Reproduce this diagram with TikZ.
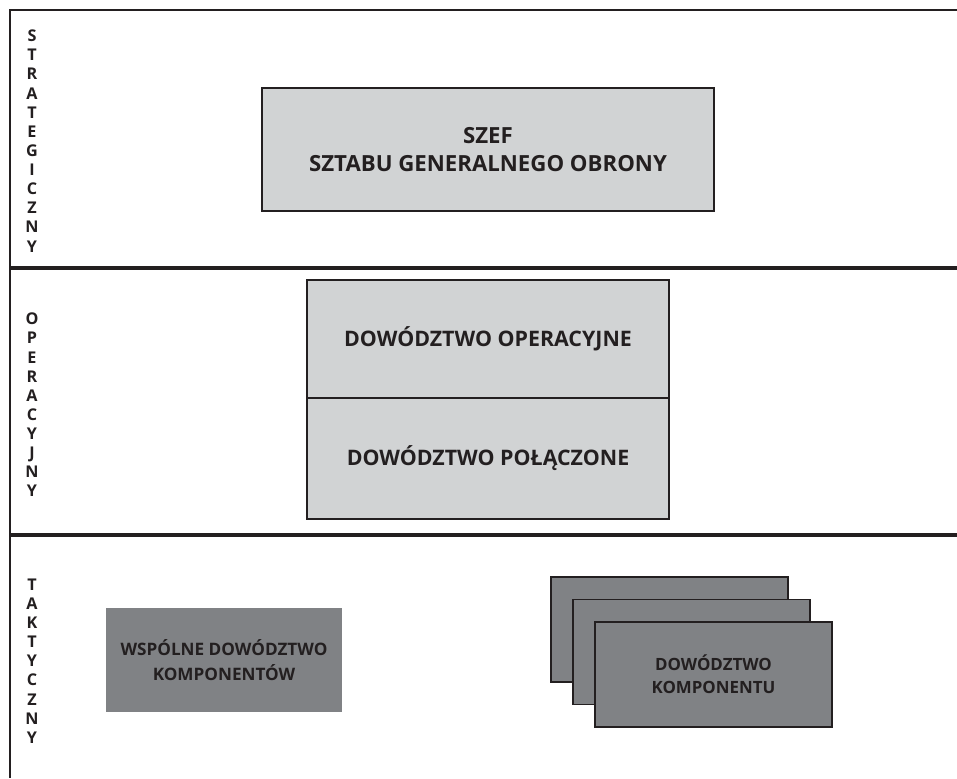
\documentclass[tikz,border=0pt]{standalone}
\usepackage{fontspec}
\setmainfont{Open Sans}
\usepackage{tikz}
\usetikzlibrary{positioning,calc}

\definecolor{jasny}{HTML}{D1D3D4}
\definecolor{ciemny}{HTML}{808285}
\definecolor{tekst}{HTML}{231F20}

\begin{document}
\begin{tikzpicture}[x=0.025cm, y=-0.025cm]
		\tikzset{poziom/.style={align=center,text=tekst,font=\bfseries\fontsize{11.5}{13.6}\selectfont}}
		\tikzset{komp/.style={rectangle,draw=tekst,line width=1.2pt,fill=ciemny,outer sep=0pt,minimum width=5.925cm,minimum height=2.625cm,align=center,text=tekst,font=\bfseries\fontsize{12}{16.3}\selectfont}}

		\useasboundingbox (0,0) rectangle (957,778);

		% Frame
		\draw[tekst, line width=1.3pt] (957,10) -| (10,778);
		\draw[tekst, line width=2.8pt] (10,268) -- (957,268);
		\draw[tekst, line width=2.8pt] (10,535) -- (957,535);

		% Levels
		\node[poziom] (strat) at (32,141) {S\\T\\R\\A\\T\\E\\G\\I\\C\\Z\\N\\Y};
		\node[poziom] (oper) at (32,405) {O\\P\\E\\R\\A\\C\\Y\\J\\N\\Y};
		\node[poziom] (takt) at (32,661) {T\\A\\K\\T\\Y\\C\\Z\\N\\Y};

		% Strategic
		\node[rectangle, draw=tekst, line width=1.2pt, fill=jasny, minimum width=11.3cm, minimum height=3.075cm, align=center, text=tekst, font=\bfseries\fontsize{15.8}{20.5}\selectfont] (szef) at (488,149.5) {SZEF\\SZTABU GENERALNEGO OBRONY};

		% Operational
		\node[rectangle, draw=tekst, line width=1.2pt, fill=jasny, outer sep=0pt, minimum width=9.05cm, minimum height=2.95cm, text=tekst, font=\bfseries\fontsize{15.2}{20}\selectfont] (dowop) at (488,339) {DOWÓDZTWO OPERACYJNE};
		\node[rectangle, below=0pt of dowop, draw=tekst, line width=1.2pt, fill=jasny, outer sep=0pt, minimum width=9.05cm, minimum height=3.025cm, text=tekst, font=\bfseries\fontsize{15.2}{20}\selectfont] (dowpol) {DOWÓDZTWO POŁĄCZONE};

		% Tactical
		\node[rectangle, fill=ciemny, minimum width=5.9cm, minimum height=2.6cm, align=center, text=tekst, font=\bfseries\fontsize{12.2}{17.5}\selectfont] (wspolne) at (224,660) {WSPÓLNE DOWÓDZTWO\\KOMPONENTÓW};

		\node[komp] (kompA) at (669.5,629.5) {};
		\node[komp] (kompB) at ($(kompA)+(22,22.5)$) {};
		\node[komp] (kompC) at ($(kompB)+(22,22.5)$) {DOWÓDZTWO\\KOMPONENTU};

	\end{tikzpicture}
\end{document}
